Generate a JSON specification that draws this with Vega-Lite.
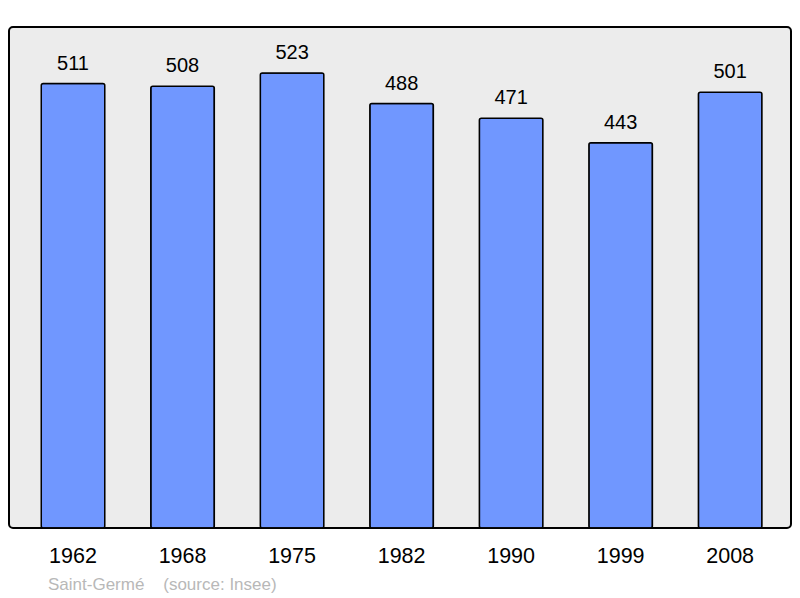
{
  "$schema": "https://vega.github.io/schema/vega-lite/v6.json",
  "width": 782,
  "height": 501,
  "autosize": {"type": "none"},
  "padding": {"left": 9, "top": 27, "right": 9, "bottom": 70},
  "background": "white",
  "config": {
    "font": "Liberation Sans",
    "view": {"fill": "#ececec", "stroke": "black", "strokeWidth": 2, "cornerRadius": 4}
  },
  "title": {
    "text": "Saint-Germé\u00a0\u00a0\u00a0\u00a0(source: Insee)",
    "orient": "bottom",
    "anchor": "start",
    "dx": 39,
    "offset": 10,
    "fontSize": 17,
    "fontWeight": "normal",
    "color": "#b8b8b8",
    "font": "Liberation Sans"
  },
  "data": {
    "values": [
      {"year": "1962", "pop": 511},
      {"year": "1968", "pop": 508},
      {"year": "1975", "pop": 523},
      {"year": "1982", "pop": 488},
      {"year": "1990", "pop": 471},
      {"year": "1999", "pop": 443},
      {"year": "2008", "pop": 501}
    ]
  },
  "encoding": {
    "x": {
      "field": "year",
      "type": "ordinal",
      "scale": {"paddingInner": 0.42, "paddingOuter": 0.28, "align": 0.526},
      "axis": {"title": null, "labelAngle": 0, "ticks": false, "domain": false, "labelFontSize": 21.5, "labelColor": "black", "labelPadding": 17, "labelFont": "Liberation Sans"}
    },
    "y": {
      "field": "pop",
      "type": "quantitative",
      "scale": {"domain": [0, 576], "nice": false},
      "axis": null
    }
  },
  "layer": [
    {
      "mark": {"type": "bar", "color": "#7097ff", "stroke": "black", "strokeWidth": 1.5, "cornerRadius": 2}
    },
    {
      "mark": {"type": "text", "baseline": "alphabetic", "dy": -14, "fontSize": 20, "color": "black", "font": "Liberation Sans"},
      "encoding": {"text": {"field": "pop"}}
    }
  ]
}
